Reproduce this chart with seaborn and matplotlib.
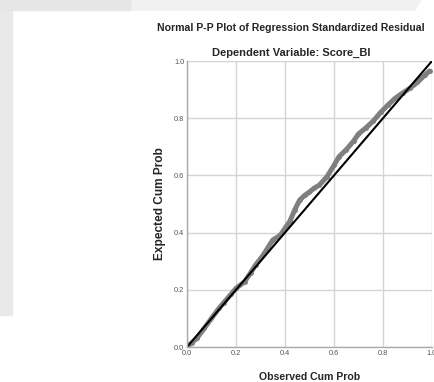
import matplotlib
matplotlib.use('Agg')
import matplotlib.pyplot as plt
import matplotlib.patches as mpatches
import seaborn as sns
import pandas as pd

observed = [0.0, 0.02, 0.04, 0.07, 0.10, 0.13, 0.15, 0.18, 0.20, 0.235, 0.26, 0.28,
            0.31, 0.35, 0.38, 0.40, 0.42, 0.44, 0.46, 0.48, 0.50, 0.52, 0.54, 0.57,
            0.60, 0.62, 0.65, 0.68, 0.70, 0.73, 0.76, 0.79, 0.82, 0.85, 0.88, 0.91,
            0.94, 0.97, 0.99]
expected = [0.0, 0.015, 0.03, 0.065, 0.10, 0.135, 0.155, 0.185, 0.205, 0.228, 0.26, 0.287,
            0.32, 0.374, 0.39, 0.415, 0.44, 0.48, 0.514, 0.53, 0.542, 0.556, 0.566, 0.594,
            0.635, 0.665, 0.69, 0.72, 0.745, 0.766, 0.79, 0.82, 0.846, 0.87, 0.888, 0.905,
            0.925, 0.95, 0.965]
ticks = [0.0, 0.2, 0.4, 0.6, 0.8, 1.0]

sns.set_style('white')
plt.rcParams['font.family'] = ['Liberation Sans', 'DejaVu Sans']

df = pd.DataFrame({'obs': observed, 'exp': expected})

fig = plt.figure(figsize=(4.35, 3.82), dpi=100)
# 배경의 회색 띠
fig.patches.append(mpatches.Rectangle((0, 0.175), 12 / 435, 0.825, transform=fig.transFigure,
                                      color='#e9e9e9', zorder=-1))
fig.patches.append(mpatches.Polygon([(0, 1), (0, 1 - 10 / 382), (415 / 435, 1 - 10 / 382), (421 / 435, 1)],
                                    closed=True, transform=fig.transFigure, color='#f1f1f1', zorder=-2))
fig.patches.append(mpatches.Rectangle((0, 1 - 10 / 382), 130 / 435, 10 / 382, transform=fig.transFigure,
                                      color='#e6e6e6', zorder=-1))

ax = fig.add_axes([187 / 435, 35 / 382, 245 / 435, 286 / 382])
ax.grid(True, color='#d4d4d4', linewidth=1)
ax.set_axisbelow(True)
sns.lineplot(data=df, x='obs', y='exp', ax=ax, color='#7f7f7f', linewidth=3.6,
             marker='o', markersize=3.5, markeredgewidth=0,
             solid_capstyle='round', sort=False)
ax.plot([0, 1], [0, 1], color='black', linewidth=1.5)
ax.set_xlim(0, 1)
ax.set_ylim(0, 1)
ax.set_xticks(ticks)
ax.set_yticks(ticks)
ax.set_xticklabels([f'{t:.1f}' for t in ticks])
ax.set_yticklabels([f'{t:.1f}' for t in ticks])
ax.tick_params(labelsize=5.3, colors='#555555', length=0, pad=2)
for s in ['top', 'right']:
    ax.spines[s].set_visible(False)
for s in ['left', 'bottom']:
    ax.spines[s].set_color('#aaaaaa')
    ax.spines[s].set_linewidth(1)
ax.set_xlabel('Observed Cum Prob', fontsize=7.6, fontweight='bold', labelpad=11)
ax.set_ylabel('Expected Cum Prob', fontsize=8.6, fontweight='bold', labelpad=6)

fig.text(291 / 435, 1 - 28 / 382, 'Normal P-P Plot of Regression Standardized Residual',
         ha='center', va='center', fontsize=7.6, fontweight='bold')
fig.text(291 / 435, 1 - 53 / 382, 'Dependent Variable: Score_BI',
         ha='center', va='center', fontsize=8.0, fontweight='bold')

fig.savefig('out.png', dpi=100)
